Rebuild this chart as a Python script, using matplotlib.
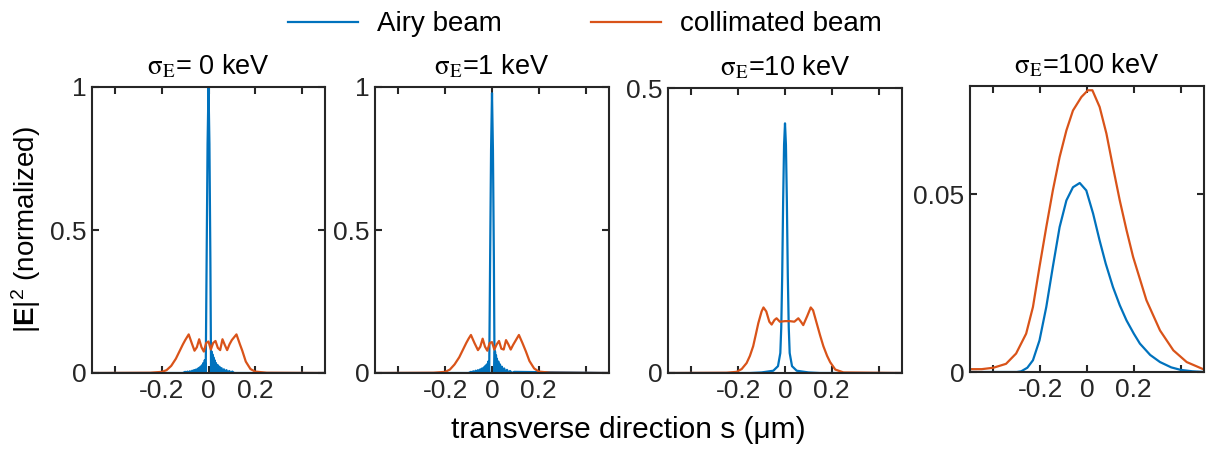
import matplotlib
matplotlib.use('Agg')
import matplotlib.pyplot as plt

plt.rcParams['font.family'] = ['Liberation Sans', 'DejaVu Sans']
plt.rcParams['mathtext.fontset'] = 'custom'
plt.rcParams['mathtext.rm'] = 'Liberation Sans'
plt.rcParams['mathtext.bf'] = 'Liberation Sans:bold'
plt.rcParams['mathtext.it'] = 'Liberation Sans:italic'

BLUE = '#0072BD'
ORANGE = '#D95319'
DARK = '#262626'

# sigma_E = 0 keV
airy0_s = [-0.5, -0.11, -0.1, -0.095, -0.09, -0.085, -0.08, -0.075, -0.07, -0.066, -0.062, -0.058,
           -0.054, -0.05, -0.046, -0.043, -0.04, -0.037, -0.034, -0.031, -0.028, -0.025, -0.022,
           -0.019, -0.016, -0.012, -0.008, -0.004, 0.0, 0.004, 0.008, 0.011, 0.013, 0.015, 0.017,
           0.019, 0.021, 0.023, 0.026, 0.029, 0.032, 0.035, 0.039, 0.043, 0.047, 0.051, 0.056,
           0.061, 0.066, 0.071, 0.077, 0.083, 0.089, 0.095, 0.102, 0.11, 0.5]
airy0_v = [0.0, 0.0, 0.004, 0.0, 0.005, 0.0, 0.006, 0.0, 0.008, 0.0, 0.01, 0.0,
           0.012, 0.0, 0.015, 0.0, 0.018, 0.0, 0.022, 0.0, 0.027, 0.0, 0.035,
           0.0, 0.045, 0.0, 0.4, 0.8, 1.0, 0.8, 0.4, 0.0, 0.075, 0.0, 0.065,
           0.0, 0.055, 0.0, 0.045, 0.0, 0.035, 0.0, 0.028, 0.0, 0.022, 0.0, 0.017,
           0.0, 0.013, 0.0, 0.01, 0.0, 0.007, 0.0, 0.005, 0.0, 0.0]
coll0_s = [-0.5, -0.25, -0.2, -0.18, -0.16, -0.14, -0.125, -0.11, -0.1, -0.085, -0.07, -0.06,
           -0.05, -0.04, -0.03, -0.02, -0.01, 0.0, 0.01, 0.02, 0.03, 0.04, 0.05, 0.06, 0.07,
           0.08, 0.09, 0.1, 0.12, 0.135, 0.145, 0.16, 0.18, 0.2, 0.25, 0.5]
coll0_v = [0.0, 0.001, 0.004, 0.01, 0.025, 0.05, 0.075, 0.1, 0.115, 0.135, 0.1, 0.078,
           0.09, 0.118, 0.09, 0.075, 0.105, 0.11, 0.082, 0.105, 0.112, 0.088, 0.08, 0.118, 0.098,
           0.08, 0.1, 0.115, 0.135, 0.1, 0.078, 0.04, 0.014, 0.005, 0.001, 0.0]

# sigma_E = 1 keV
airy1_s = [-0.5, -0.1, -0.09, -0.085, -0.08, -0.075, -0.07, -0.065, -0.06, -0.055, -0.05, -0.046,
           -0.042, -0.038, -0.034, -0.031, -0.028, -0.025, -0.022, -0.019, -0.016, -0.012, -0.008,
           -0.004, 0.0, 0.004, 0.008, 0.011, 0.013, 0.015, 0.017, 0.019, 0.021, 0.024, 0.027,
           0.03, 0.034, 0.038, 0.042, 0.047, 0.052, 0.058, 0.064, 0.07, 0.077, 0.085, 0.095, 0.5]
airy1_v = [0.0, 0.0, 0.004, 0.0, 0.006, 0.0, 0.008, 0.0, 0.01, 0.0, 0.013, 0.0,
           0.016, 0.0, 0.02, 0.0, 0.025, 0.0, 0.03, 0.0, 0.04, 0.0, 0.4,
           0.78, 0.978, 0.78, 0.4, 0.0, 0.075, 0.0, 0.062, 0.0, 0.05, 0.0, 0.04,
           0.0, 0.03, 0.0, 0.022, 0.0, 0.016, 0.0, 0.011, 0.0, 0.007, 0.0, 0.004, 0.0]
coll1_s = [-0.5, -0.25, -0.2, -0.18, -0.16, -0.14, -0.125, -0.11, -0.1, -0.09, -0.075, -0.06,
           -0.05, -0.04, -0.03, -0.02, -0.01, 0.0, 0.01, 0.02, 0.03, 0.04, 0.05, 0.06, 0.07,
           0.08, 0.09, 0.1, 0.115, 0.13, 0.145, 0.16, 0.18, 0.2, 0.25, 0.5]
coll1_v = [0.0, 0.001, 0.004, 0.012, 0.03, 0.055, 0.08, 0.105, 0.12, 0.133, 0.105, 0.08,
           0.092, 0.12, 0.092, 0.078, 0.105, 0.108, 0.082, 0.1, 0.112, 0.085, 0.082, 0.115, 0.1,
           0.082, 0.098, 0.112, 0.133, 0.105, 0.075, 0.042, 0.016, 0.005, 0.001, 0.0]

# sigma_E = 10 keV
airy10_s = [-0.5, -0.15, -0.1, -0.05, -0.03, -0.02, -0.016, -0.012, -0.008, -0.004, 0.0,
            0.004, 0.008, 0.012, 0.016, 0.02, 0.03, 0.05, 0.1, 0.15, 0.5]
airy10_v = [0.0, 0.0, 0.001, 0.004, 0.012, 0.035, 0.08, 0.17, 0.3, 0.4, 0.438,
            0.4, 0.3, 0.17, 0.08, 0.035, 0.012, 0.004, 0.001, 0.0, 0.0]
coll10_s = [-0.5, -0.25, -0.207, -0.185, -0.164, -0.15, -0.136, -0.125, -0.114, -0.1, -0.092,
            -0.08, -0.067, -0.057, -0.045, -0.036, -0.022, 0.0, 0.02, 0.04, 0.057, 0.068,
            0.078, 0.095, 0.11, 0.12, 0.135, 0.15, 0.164, 0.18, 0.193, 0.215, 0.25, 0.5]
coll10_v = [0.0, 0.0005, 0.002, 0.007, 0.0175, 0.03, 0.047, 0.067, 0.0875, 0.108, 0.115,
            0.108, 0.09, 0.085, 0.093, 0.096, 0.09, 0.091, 0.091, 0.09, 0.096, 0.09,
            0.084, 0.1, 0.115, 0.11, 0.088, 0.066, 0.047, 0.03, 0.019, 0.006, 0.001, 0.0]

# sigma_E = 100 keV
airy100_s = [-0.5, -0.3, -0.281, -0.255, -0.231, -0.203, -0.174, -0.146, -0.117, -0.088, -0.06,
             -0.031, -0.003, 0.026, 0.054, 0.08, 0.111, 0.14, 0.169, 0.2, 0.226, 0.27, 0.312,
             0.36, 0.4, 0.45, 0.5]
airy100_v = [0.0, 0.0, 0.0002, 0.0012, 0.0033, 0.0089, 0.0183, 0.0296, 0.0408, 0.0483, 0.052,
             0.0532, 0.0511, 0.0446, 0.037, 0.0305, 0.0239, 0.0188, 0.0145, 0.0108, 0.008, 0.0048,
             0.0028, 0.0013, 0.0006, 0.0002, 0.0]
coll100_s = [-0.5, -0.45, -0.4, -0.346, -0.303, -0.26, -0.231, -0.203, -0.174, -0.146, -0.117,
             -0.088, -0.06, -0.024, 0.004, 0.023, 0.054, 0.083, 0.111, 0.14, 0.169, 0.197,
             0.254, 0.312, 0.369, 0.426, 0.5]
coll100_v = [0.0008, 0.0008, 0.0012, 0.0023, 0.0052, 0.0108, 0.0183, 0.0296, 0.0408, 0.0511, 0.0605,
             0.068, 0.0736, 0.0774, 0.0793, 0.0793, 0.0746, 0.0671, 0.0577, 0.0483, 0.0399, 0.0324,
             0.0202, 0.0117, 0.0061, 0.0028, 0.0007]

titles = [r'$\mathrm{σ}_\mathrm{E}$= 0 keV', r'$\mathrm{σ}_\mathrm{E}$=1 keV',
          r'$\mathrm{σ}_\mathrm{E}$=10 keV', r'$\mathrm{σ}_\mathrm{E}$=100 keV']
ylims = [1.0, 1.0, 0.5, 0.0805]
yticks = [[0, 0.5, 1], [0, 0.5, 1], [0, 0.5], [0, 0.05]]
yticklabels = [['0', '0.5', '1'], ['0', '0.5', '1'], ['0', '0.5'], ['0', '0.05']]
xticks = [-0.4, -0.2, 0, 0.2, 0.4]
xticklabels = ['', '-0.2', '0', '0.2', '']

airy = [(airy0_s, airy0_v), (airy1_s, airy1_v), (airy10_s, airy10_v), (airy100_s, airy100_v)]
coll = [(coll0_s, coll0_v), (coll1_s, coll1_v), (coll10_s, coll10_v), (coll100_s, coll100_v)]

fig = plt.figure(figsize=(12.09, 4.58), dpi=100)
W, H = 1209, 458
boxes = [(92, 87, 233, 286), (375, 87, 234, 286), (668, 88, 234, 285), (970, 86, 234, 286)]

for i, (l, t, w, h) in enumerate(boxes):
    ax = fig.add_axes([l / W, 1 - (t + h) / H, w / W, h / H])
    la, = ax.plot(airy[i][0], airy[i][1], color=BLUE, lw=1.6)
    lc, = ax.plot(coll[i][0], coll[i][1], color=ORANGE, lw=1.6)
    ax.set_xlim(-0.5, 0.5)
    ax.set_ylim(0, ylims[i])
    ax.set_xticks(xticks)
    ax.set_xticklabels(xticklabels)
    ax.set_yticks(yticks[i])
    ax.set_yticklabels(yticklabels[i])
    ax.tick_params(direction='in', top=True, right=True, length=5, width=1.5,
                   colors=DARK, labelsize=19, pad=4)
    for sp in ax.spines.values():
        sp.set_linewidth(1.5)
        sp.set_color(DARK)
    ax.set_title(titles[i], fontsize=19.5, pad=9, math_fontfamily='stix')

fig.legend([la, lc], ['Airy beam', 'collimated beam'], loc='upper center',
           bbox_to_anchor=(0.484, 1.03), ncol=2, frameon=False, fontsize=20,
           handlelength=2.5, handletextpad=0.7, columnspacing=3.2)
fig.text(0.52, 0.03, 'transverse direction s (μm)', ha='center', va='bottom', fontsize=21.5)
fig.text(0.022, 0.50, r'$|\mathbf{E}|^2$ (normalized)', rotation=90, ha='center', va='center',
         fontsize=20)

fig.savefig('out.png', dpi=100)
